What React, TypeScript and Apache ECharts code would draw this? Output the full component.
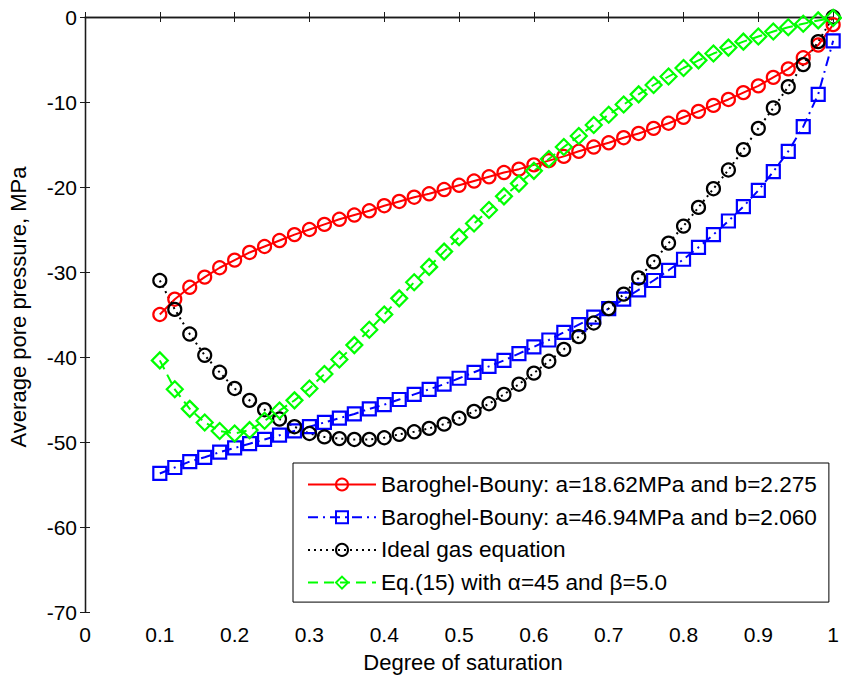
import React, { useEffect, useRef } from "react";
import * as echarts from "echarts";

const saturation = [
  0.1, 0.12, 0.14, 0.16, 0.18, 0.2, 0.22, 0.24, 0.26, 0.28,
  0.3, 0.32, 0.34, 0.36, 0.38, 0.4, 0.42, 0.44, 0.46, 0.48,
  0.5, 0.52, 0.54, 0.56, 0.58, 0.6, 0.62, 0.64, 0.66, 0.68,
  0.7, 0.72, 0.74, 0.76, 0.78, 0.8, 0.82, 0.84, 0.86, 0.88,
  0.9, 0.92, 0.94, 0.96, 0.98, 1.0,
];

const bbRed = [
  -35.0, -33.2, -31.8, -30.6, -29.5, -28.6, -27.7, -27.0, -26.3, -25.6,
  -25.0, -24.4, -23.8, -23.3, -22.8, -22.2, -21.7, -21.2, -20.8, -20.3,
  -19.8, -19.3, -18.8, -18.3, -17.9, -17.4, -16.9, -16.4, -15.8, -15.3,
  -14.8, -14.2, -13.7, -13.1, -12.5, -11.8, -11.1, -10.4, -9.7, -8.9,
  -8.1, -7.1, -6.1, -4.8, -3.3, -0.9,
];

const bbBlue = [
  -53.7, -53.0, -52.3, -51.8, -51.2, -50.7, -50.2, -49.7, -49.2, -48.7,
  -48.2, -47.7, -47.2, -46.7, -46.1, -45.6, -45.0, -44.4, -43.8, -43.2,
  -42.5, -41.8, -41.1, -40.4, -39.6, -38.8, -38.0, -37.1, -36.2, -35.3,
  -34.3, -33.2, -32.1, -31.0, -29.8, -28.5, -27.1, -25.6, -24.0, -22.3,
  -20.4, -18.2, -15.8, -12.9, -9.1, -2.8,
];

const idealGas = [
  -31.0, -34.4, -37.3, -39.8, -41.8, -43.7, -45.1, -46.2, -47.3, -48.2,
  -49.0, -49.4, -49.6, -49.7, -49.7, -49.5, -49.1, -48.8, -48.4, -47.9,
  -47.2, -46.4, -45.5, -44.4, -43.2, -41.9, -40.5, -39.1, -37.6, -36.0,
  -34.3, -32.6, -30.7, -28.8, -26.6, -24.6, -22.4, -20.2, -18.0, -15.6,
  -13.1, -10.7, -8.2, -5.6, -2.9, 0.0,
];

const eq15 = [
  -40.4, -43.8, -46.1, -47.7, -48.7, -49.0, -48.6, -47.5, -46.3, -45.1,
  -43.7, -42.0, -40.3, -38.6, -36.8, -35.0, -33.1, -31.2, -29.4, -27.6,
  -25.9, -24.3, -22.7, -21.1, -19.6, -18.1, -16.7, -15.3, -14.0, -12.7,
  -11.5, -10.3, -9.1, -8.0, -7.0, -6.0, -5.1, -4.3, -3.6, -2.9,
  -2.3, -1.7, -1.2, -0.8, -0.4, -0.1,
];

const xTickLabels = ["0", "0.1", "0.2", "0.3", "0.4", "0.5", "0.6", "0.7", "0.8", "0.9", "1"];
const yTickLabels = ["-70", "-60", "-50", "-40", "-30", "-20", "-10", "0"];

const seriesNames = [
  "Baroghel-Bouny: a=18.62MPa and b=2.275",
  "Baroghel-Bouny: a=46.94MPa and b=2.060",
  "Ideal gas equation",
  "Eq.(15) with \u03b1=45 and \u03b2=5.0",
];

const xTitle = "Degree of saturation";
const yTitle = "Average pore pressure, MPa";

export default function App() {
  const ref = useRef<HTMLDivElement>(null);

  useEffect(() => {
    if (!ref.current) return;
    const chart = echarts.init(ref.current, null, { renderer: "svg" });
    const font = '"Liberation Sans", Arial, Helvetica, sans-serif';
    const pair = (vals: number[]) => saturation.map((s, i) => [s, vals[i]]);

    const mk = (
      name: string,
      vals: number[],
      color: string,
      symbol: string,
      size: number,
      lineType: any
    ) => ({
      type: "line",
      name,
      data: pair(vals),
      symbol,
      symbolSize: size,
      showSymbol: true,
      showAllSymbol: true,
      lineStyle: { color, width: 2, type: lineType },
      itemStyle: { color: "rgba(0,0,0,0)", borderColor: color, borderWidth: 2.2 },
      emphasis: { disabled: true },
      clip: true,
    });

    const axisLine = { show: true, lineStyle: { color: "#1a1a1a", width: 1.3 } };
    const tick = { show: true, inside: true, length: 5, lineStyle: { color: "#1a1a1a" } };

    chart.setOption({
      animation: false,
      grid: { left: 85, top: 17, width: 755, height: 595, containLabel: false },
      xAxis: [
        {
          type: "value",
          min: 0,
          max: 1,
          interval: 0.1,
          position: "bottom",
          axisLine,
          axisTick: tick,
          splitLine: { show: false },
          axisLabel: {
            margin: 12,
            color: "#000",
            fontSize: 21,
            fontFamily: font,
            formatter: (v: number) => xTickLabels[Math.round(v * 10)],
          },
        },
        {
          type: "value",
          min: 0,
          max: 1,
          interval: 0.1,
          position: "top",
          axisLine,
          axisTick: tick,
          splitLine: { show: false },
          axisLabel: { show: false },
        },
      ],
      yAxis: [
        {
          type: "value",
          min: -70,
          max: 0,
          interval: 10,
          position: "left",
          axisLine,
          axisTick: tick,
          splitLine: { show: false },
          axisLabel: {
            margin: 8,
            color: "#000",
            fontSize: 21,
            fontFamily: font,
            formatter: (v: number) => yTickLabels[Math.round((v + 70) / 10)],
          },
        },
        {
          type: "value",
          min: -70,
          max: 0,
          interval: 10,
          position: "right",
          axisLine,
          axisTick: tick,
          splitLine: { show: false },
          axisLabel: { show: false },
        },
      ],
      legend: {
        orient: "vertical",
        left: 293,
        top: 463,
        itemWidth: 68,
        itemHeight: 15,
        itemGap: 9.7,
        padding: [10, 12, 8, 14],
        borderColor: "#000",
        borderWidth: 1,
        borderRadius: 0,
        backgroundColor: "#fff",
        selectedMode: false,
        textStyle: { fontSize: 22.6, lineHeight: 22, color: "#000", fontFamily: font },
        data: seriesNames,
      },
      graphic: [
        {
          type: "text",
          x: 463,
          y: 662,
          style: {
            text: xTitle,
            fontSize: 22,
            fontFamily: font,
            fill: "#000",
            textAlign: "center",
            textVerticalAlign: "middle",
          },
        },
        {
          type: "text",
          x: 18,
          y: 307,
          rotation: Math.PI / 2,
          style: {
            text: yTitle,
            fontSize: 22,
            fontFamily: font,
            fill: "#000",
            textAlign: "center",
            textVerticalAlign: "middle",
          },
        },
      ],
      series: [
        mk(seriesNames[0], bbRed, "#ff0000", "circle", 13, "solid"),
        mk(seriesNames[1], bbBlue, "#0000ff", "rect", 13, [10, 5, 2, 5]),
        mk(seriesNames[2], idealGas, "#000000", "circle", 13, [2, 4]),
        mk(seriesNames[3], eq15, "#00ff00", "diamond", 16, [10, 6]),
      ],
    });

    return () => chart.dispose();
  }, []);

  return (
    <div
      ref={ref}
      style={{ position: "fixed", left: 0, top: 0, width: 842, height: 678, background: "#fff" }}
    />
  );
}
